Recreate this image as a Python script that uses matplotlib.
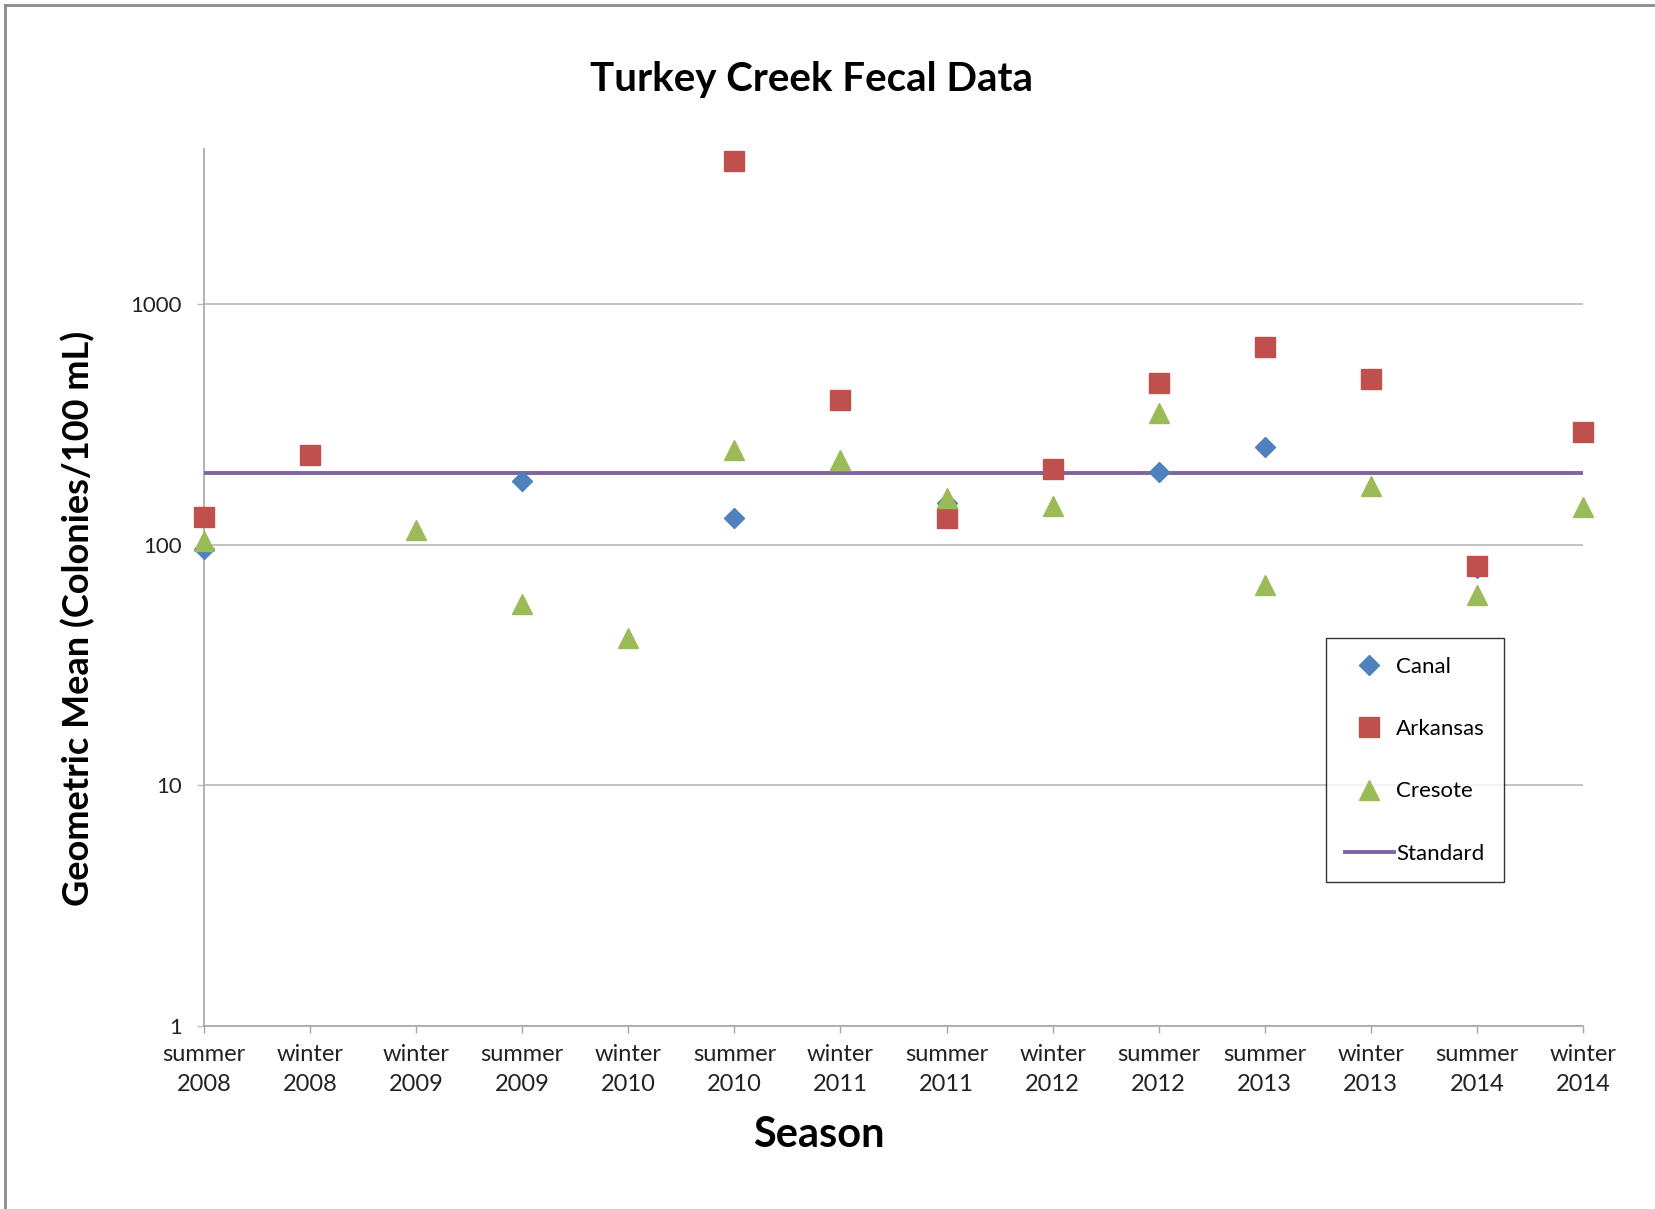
import numpy as np
import matplotlib
matplotlib.use('Agg')
import matplotlib.pyplot as plt
from matplotlib.lines import Line2D

plt.rcParams['font.family'] = ['Lato', 'DejaVu Sans']

seasons = ['summer\n2008', 'winter\n2008', 'winter\n2009', 'summer\n2009',
           'winter\n2010', 'summer\n2010', 'winter\n2011', 'summer\n2011',
           'winter\n2012', 'summer\n2012', 'summer\n2013', 'winter\n2013',
           'summer\n2014', 'winter\n2014']
nan = np.nan
canal    = [96, nan, nan, 185, nan, 129, nan, 150, nan, 201, 256, nan, 80, nan]
arkansas = [131, 236, nan, nan, nan, 3950, 400, 130, 207, 472, 662, 489, 82, 295]
cresote  = [104, nan, 115, 57, 41, 248, 225, 156, 145, 353, 68, 175, 62, 144]
standard = [200] * len(seasons)

x = np.arange(len(seasons))

W, H = 1656, 1209
fig = plt.figure(figsize=(W / 100, H / 100), dpi=100)
ax = fig.add_axes([204 / W, 1 - 1026 / H, (1583 - 204) / W, (1026 - 149) / H])

ax.plot(x, standard, color='#8064A2', lw=2.8, zorder=3, label='Standard')
ax.plot(x, canal, 'D', color='#4F81BD', ms=10, ls='none', zorder=4,
        clip_on=False, label='Canal')
ax.plot(x, arkansas, 's', color='#C0504D', ms=14, ls='none', zorder=5,
        clip_on=False, label='Arkansas')
ax.plot(x, cresote, '^', color='#9BBB59', ms=15, ls='none', zorder=6,
        clip_on=False, label='Cresote')

ax.set_yscale('log')
ax.set_ylim(1, 10 ** 3.646)
ax.set_xlim(0, len(seasons) - 1)
ax.set_yticks([1, 10, 100, 1000])
ax.set_yticklabels(['1', '10', '100', '1000'])
ax.yaxis.set_minor_locator(matplotlib.ticker.NullLocator())
ax.set_xticks(x)
ax.set_xticklabels(seasons, linespacing=1.5)

ax.grid(axis='y', color='#BEBEBE', lw=1.3)
ax.set_axisbelow(True)
for s in ('top', 'right'):
    ax.spines[s].set_visible(False)
for s in ('left', 'bottom'):
    ax.spines[s].set_color('#A6A6A6')
    ax.spines[s].set_linewidth(1.2)
ax.tick_params(axis='x', length=5, color='#A6A6A6', width=1, pad=8,
               labelsize=17, labelcolor='#222222')
ax.tick_params(axis='y', length=5, color='#BEBEBE', width=1, pad=11,
               labelsize=16, labelcolor='#222222')

fig.text(812 / W, 1 - 79 / H, 'Turkey Creek Fecal Data', ha='center',
         va='center', fontsize=29, fontweight='bold')
fig.text(819 / W, 1 - 1135 / H, 'Season', ha='center', va='center',
         fontsize=30, fontweight='bold')
fig.text(78 / W, 1 - 618 / H, 'Geometric Mean (Colonies/100 mL)',
         ha='center', va='center', rotation=90, fontsize=26,
         fontweight='bold')

handles, labels = ax.get_legend_handles_labels()
order = [1, 2, 3, 0]
leg = ax.legend([handles[i] for i in order], [labels[i] for i in order],
                loc='upper left', bbox_to_anchor=(1326 / W, 1 - 638 / H),
                bbox_transform=fig.transFigure, fontsize=16,
                frameon=True, fancybox=False, edgecolor='black',
                labelspacing=1.9, handlelength=2.2, handletextpad=0.1,
                borderpad=0.85, borderaxespad=0)
leg.get_frame().set_linewidth(1)

# chart border
fig.add_artist(Line2D([5 / W, 5 / W], [0, 1 - 5 / H], color='#8C8C8C', lw=2))
fig.add_artist(Line2D([5 / W, 1], [1 - 5 / H, 1 - 5 / H], color='#8C8C8C', lw=2))

fig.savefig('out.png', dpi=100)
